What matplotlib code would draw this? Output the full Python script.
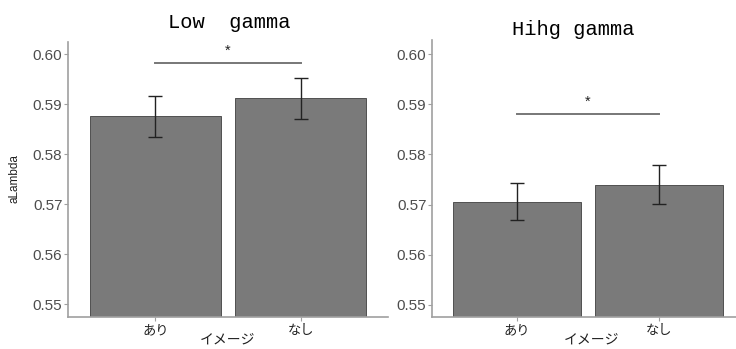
import matplotlib

matplotlib.use("Agg")
import matplotlib.pyplot as plt
import numpy as np

plt.rcParams["font.family"] = ["Liberation Sans", "Noto Sans CJK JP", "DejaVu Sans"]

CATEGORIES = ["あり", "なし"]
TITLES = ["Low  gamma", "Hihg gamma"]
XLABEL = "イメージ"
LOW_MEANS = [0.5876, 0.5912]
LOW_ERR = [0.0041, 0.0041]
HIGH_MEANS = [0.5706, 0.5740]
HIGH_ERR = [0.0037, 0.0038]
LOW_SIG = 0.5982
HIGH_SIG = 0.5880
YTICKS = [0.55, 0.56, 0.57, 0.58, 0.59, 0.60]

W, H = 736, 349
BAR = "#7a7a7a"
AXIS = "#a0a0a0"
TXT = "#4d4d4d"


def px_axes(fig, x0, x1, y0, y1):
    return fig.add_axes([x0 / W, 1 - y1 / H, (x1 - x0) / W, (y1 - y0) / H])


def panel(ax, means, errs, sig, ylim):
    x = np.arange(len(CATEGORIES))
    ax.bar(x, means, 0.9, color=BAR, edgecolor="#505050", lw=0.7, zorder=2)
    ax.errorbar(x, means, yerr=errs, fmt="none", ecolor="#222222",
                elinewidth=1.0, capsize=5, capthick=1.0, zorder=3)
    ax.plot([0, 1], [sig, sig], color="#777777", lw=1.4, zorder=3)
    ax.text(0.5, sig + 0.0010, "*", ha="center", va="bottom",
            fontsize=10.5, color="#222222")
    ax.set_xlim(-0.6, 1.6)
    ax.set_ylim(*ylim)
    ax.set_yticks(YTICKS, [f"{v:.2f}" for v in YTICKS])
    ax.set_xticks(x, CATEGORIES)
    ax.tick_params(axis="y", labelsize=11, colors=TXT, length=3, width=0.8,
                   color=AXIS, pad=1)
    ax.tick_params(axis="x", labelsize=9.5, colors="#222222", length=3,
                   width=0.8, color=AXIS, pad=2)
    for lab in ax.get_xticklabels():
        lab.set_family(["Noto Sans CJK JP"])
    for s in ("top", "right"):
        ax.spines[s].set_visible(False)
    for s in ("left", "bottom"):
        ax.spines[s].set_color(AXIS)
        ax.spines[s].set_linewidth(1.2)


fig = plt.figure(figsize=(W / 100, H / 100), dpi=100)

ax1 = px_axes(fig, 68, 388, 42, 317)
panel(ax1, LOW_MEANS, LOW_ERR, LOW_SIG, (0.5474, 0.6024))
ax1.set_ylabel("aLambda", fontsize=8.5, color="#222222")
ax1.yaxis.set_label_coords(-0.147, 0.505)

ax2 = px_axes(fig, 432, 744, 40, 317)
panel(ax2, HIGH_MEANS, HIGH_ERR, HIGH_SIG, (0.5476, 0.6028))

fig.text(228 / W, 1 - 340 / H, XLABEL, family=["Noto Sans CJK JP"],
         fontsize=10, color="#222222", ha="center", va="center")
fig.text(592 / W, 1 - 340 / H, XLABEL, family=["Noto Sans CJK JP"],
         fontsize=10, color="#222222", ha="center", va="center")

fig.text(229 / W, 1 - 28 / H, TITLES[0], family="Liberation Mono",
         fontsize=14.8, ha="center", va="baseline")
fig.text(573 / W, 1 - 35 / H, TITLES[1], family="Liberation Mono",
         fontsize=14.8, ha="center", va="baseline")

fig.savefig("out.png", dpi=100)
